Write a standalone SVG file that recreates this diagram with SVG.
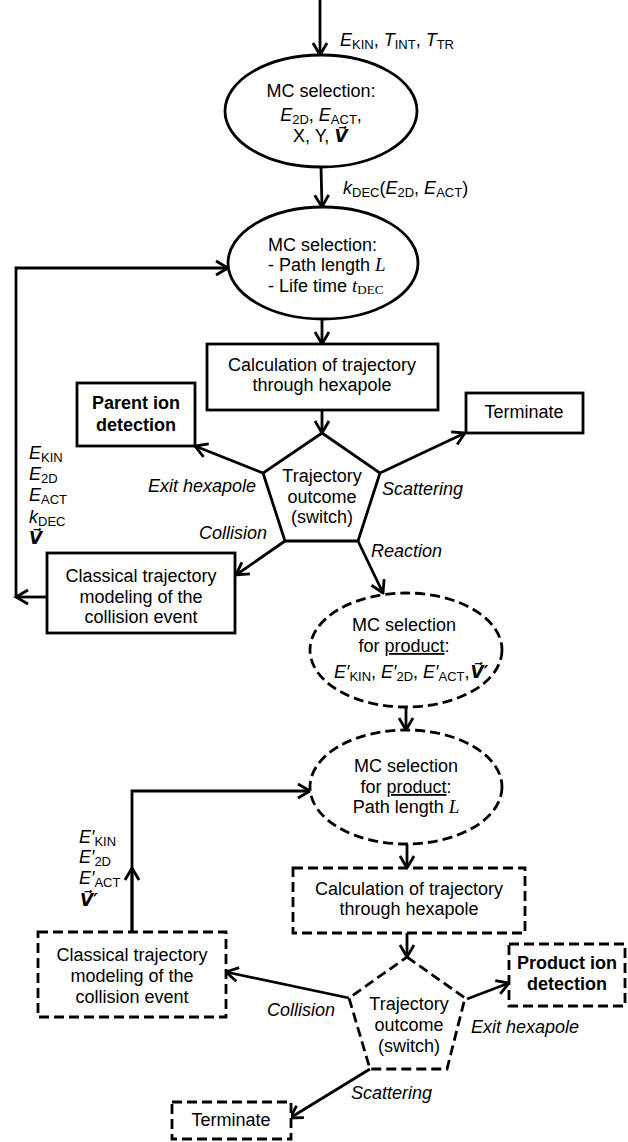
<svg xmlns="http://www.w3.org/2000/svg" width="628" height="1142" viewBox="0 0 628 1142">
<style>
text{font-family:"Liberation Sans",Arial,sans-serif;font-size:18px;fill:#000}
.c{text-anchor:middle}
.e{text-anchor:end}
.b{font-weight:bold}
.i{font-style:italic}
.s{font-size:13px;font-style:normal}
.vec{font-family:"DejaVu Sans",sans-serif;font-style:italic;font-weight:bold;font-size:17px}
.tm{font-family:"Liberation Serif","Times New Roman",serif;font-style:italic;font-size:19px}
.tms{font-family:"Liberation Serif","Times New Roman",serif;font-size:13px;font-style:normal}
.sh{fill:#fff;stroke:#000;stroke-width:2.8}
.d{stroke-dasharray:10 5}
.ln{fill:none;stroke:#000;stroke-width:2.8}
</style>
<defs>
<marker id="ah" markerUnits="userSpaceOnUse" markerWidth="20" markerHeight="20" viewBox="-14 -10 16 20" refX="0" refY="0" orient="auto">
<path d="M-12,-7 L0,0 L-12,7" fill="none" stroke="#000" stroke-width="2.8"/>
</marker>
</defs>

<g id="connectors">
<path class="ln" d="M320,0 L320,55" marker-end="url(#ah)"/>
<path class="ln" d="M321,167 L322,207" marker-end="url(#ah)"/>
<path class="ln" d="M322,320 L322,344" marker-end="url(#ah)"/>
<path class="ln" d="M322,410 L322,433" marker-end="url(#ah)"/>
<path class="ln" d="M263,473 L195,446" marker-end="url(#ah)"/>
<path class="ln" d="M380,473 L465,433" marker-end="url(#ah)"/>
<path class="ln" d="M285,541 L236,575" marker-end="url(#ah)"/>
<path class="ln" d="M358,541 L383,593" marker-end="url(#ah)"/>
<path class="ln" d="M47,597 L16,597" marker-end="url(#ah)"/>
<path class="ln" d="M16,597 L16,268 L228,268" marker-end="url(#ah)"/>
<path class="ln" d="M406,707 L406,730" marker-end="url(#ah)"/>
<path class="ln" d="M407,843 L407,868" marker-end="url(#ah)"/>
<path class="ln" d="M407,933 L407,957" marker-end="url(#ah)"/>
<path class="ln" d="M132,932 L132,868" marker-end="url(#ah)"/>
<path class="ln" d="M132,932 L132,791 L310,791" marker-end="url(#ah)"/>
<path class="ln" d="M349,998 L226,972" marker-end="url(#ah)"/>
<path class="ln" d="M467,999 L509,983" marker-end="url(#ah)"/>
<path class="ln" d="M370,1069 L290,1118" marker-end="url(#ah)"/>
</g>

<g id="labels">
<text x="340" y="46"><tspan class="i">E</tspan><tspan class="s" dy="3">KIN</tspan><tspan dy="-3">, </tspan><tspan class="i">T</tspan><tspan class="s" dy="3">INT</tspan><tspan dy="-3">, </tspan><tspan class="i">T</tspan><tspan class="s" dy="3">TR</tspan></text>
<text x="343" y="194"><tspan class="i">k</tspan><tspan class="s" dy="3">DEC</tspan><tspan dy="-3">(</tspan><tspan class="i">E</tspan><tspan class="s" dy="3">2D</tspan><tspan dy="-3">, </tspan><tspan class="i">E</tspan><tspan class="s" dy="3">ACT</tspan><tspan dy="-3">)</tspan></text>
<text x="29" y="459"><tspan class="i">E</tspan><tspan class="s" dy="3">KIN</tspan></text>
<text x="29" y="480"><tspan class="i">E</tspan><tspan class="s" dy="3">2D</tspan></text>
<text x="29" y="501"><tspan class="i">E</tspan><tspan class="s" dy="3">ACT</tspan></text>
<text x="29" y="523"><tspan class="i">k</tspan><tspan class="s" dy="3">DEC</tspan></text>
<text x="29" y="544" class="vec">V⃗</text>
<text x="256" y="492" class="e i">Exit hexapole</text>
<text x="382" y="495" class="i">Scattering</text>
<text x="267" y="539" class="e i">Collision</text>
<text x="371" y="557" class="i">Reaction</text>
<text x="79" y="843"><tspan class="i">E′</tspan><tspan class="s" dy="3">KIN</tspan></text>
<text x="79" y="863"><tspan class="i">E′</tspan><tspan class="s" dy="3">2D</tspan></text>
<text x="79" y="884"><tspan class="i">E′</tspan><tspan class="s" dy="3">ACT</tspan></text>
<text x="80" y="906" class="vec">V⃗′</text>
<text x="267" y="1016" class="i">Collision</text>
<text x="471" y="1033" class="i">Exit hexapole</text>
<text x="351" y="1099" class="i">Scattering</text>
</g>

<g id="mc1">
<ellipse class="sh" cx="321" cy="111" rx="96" ry="56"/>
<text x="321" y="97" class="c">MC selection:</text>
<text x="321" y="121" class="c"><tspan class="i">E</tspan><tspan class="s" dy="3">2D</tspan><tspan dy="-3">, </tspan><tspan class="i">E</tspan><tspan class="s" dy="3">ACT</tspan><tspan dy="-3">,</tspan></text>
<text x="293" y="142">X, Y, <tspan class="vec">V⃗</tspan></text>
</g>

<g id="mc2">
<ellipse class="sh" cx="323" cy="263" rx="95" ry="56"/>
<text x="268" y="251">MC selection:</text>
<text x="268" y="271">- Path length <tspan class="tm">L</tspan></text>
<text x="268" y="292">- Life time <tspan class="tm">t</tspan><tspan class="tms" dy="2">DEC</tspan></text>
</g>

<g id="calc1">
<rect class="sh" x="207" y="344" width="231" height="66"/>
<text x="322" y="371" class="c">Calculation of trajectory</text>
<text x="322" y="391" class="c">through hexapole</text>
</g>

<g id="parent">
<rect class="sh" x="77" y="383" width="118" height="63"/>
<text x="136" y="409" class="c b">Parent ion</text>
<text x="136" y="431" class="c b">detection</text>
</g>

<g id="term1">
<rect class="sh" x="466" y="393" width="117" height="40"/>
<text x="524" y="418" class="c">Terminate</text>
</g>

<g id="switch1">
<polygon class="sh" points="322,433 380,473 358,541 285,541 263,473"/>
<text x="322" y="482" class="c">Trajectory</text>
<text x="322" y="503" class="c">outcome</text>
<text x="322" y="523" class="c">(switch)</text>
</g>

<g id="classical1">
<rect class="sh" x="47" y="553" width="188" height="80"/>
<text x="141" y="582" class="c">Classical trajectory</text>
<text x="141" y="603" class="c">modeling of the</text>
<text x="141" y="623" class="c">collision event</text>
</g>

<g id="mc3">
<ellipse class="sh d" cx="406" cy="650" rx="96" ry="57"/>
<text x="404" y="631" class="c">MC selection</text>
<text x="404" y="652" class="c">for <tspan text-decoration="underline">product</tspan>:</text>
<text x="334" y="678"><tspan class="i">E′</tspan><tspan class="s" dy="3">KIN</tspan><tspan dy="-3">, </tspan><tspan class="i">E′</tspan><tspan class="s" dy="3">2D</tspan><tspan dy="-3">, </tspan><tspan class="i">E′</tspan><tspan class="s" dy="3">ACT</tspan><tspan dy="-3">,</tspan><tspan class="vec" dx="1">V⃗′</tspan></text>
</g>

<g id="mc4">
<ellipse class="sh d" cx="406" cy="787" rx="96" ry="57"/>
<text x="406" y="772" class="c">MC selection</text>
<text x="406" y="793" class="c">for <tspan text-decoration="underline">product</tspan>:</text>
<text x="406" y="813" class="c">Path length <tspan class="tm">L</tspan></text>
</g>

<g id="calc2">
<rect class="sh d" x="293" y="868" width="232" height="65"/>
<text x="409" y="895" class="c">Calculation of trajectory</text>
<text x="409" y="915" class="c">through hexapole</text>
</g>

<g id="classical2">
<rect class="sh d" x="38" y="932" width="188" height="85"/>
<text x="132" y="961" class="c">Classical trajectory</text>
<text x="132" y="982" class="c">modeling of the</text>
<text x="132" y="1003" class="c">collision event</text>
</g>

<g id="switch2">
<polygon class="sh d" points="407,957 465,998 447,1069 370,1069 349,998"/>
<text x="409" y="1010" class="c">Trajectory</text>
<text x="409" y="1031" class="c">outcome</text>
<text x="409" y="1052" class="c">(switch)</text>
</g>

<g id="product">
<rect class="sh d" x="509" y="944" width="116" height="62"/>
<text x="567" y="969" class="c b">Product ion</text>
<text x="567" y="990" class="c b">detection</text>
</g>

<g id="term2">
<rect class="sh d" x="172" y="1102" width="119" height="37"/>
<text x="231" y="1126" class="c">Terminate</text>
</g>
</svg>
